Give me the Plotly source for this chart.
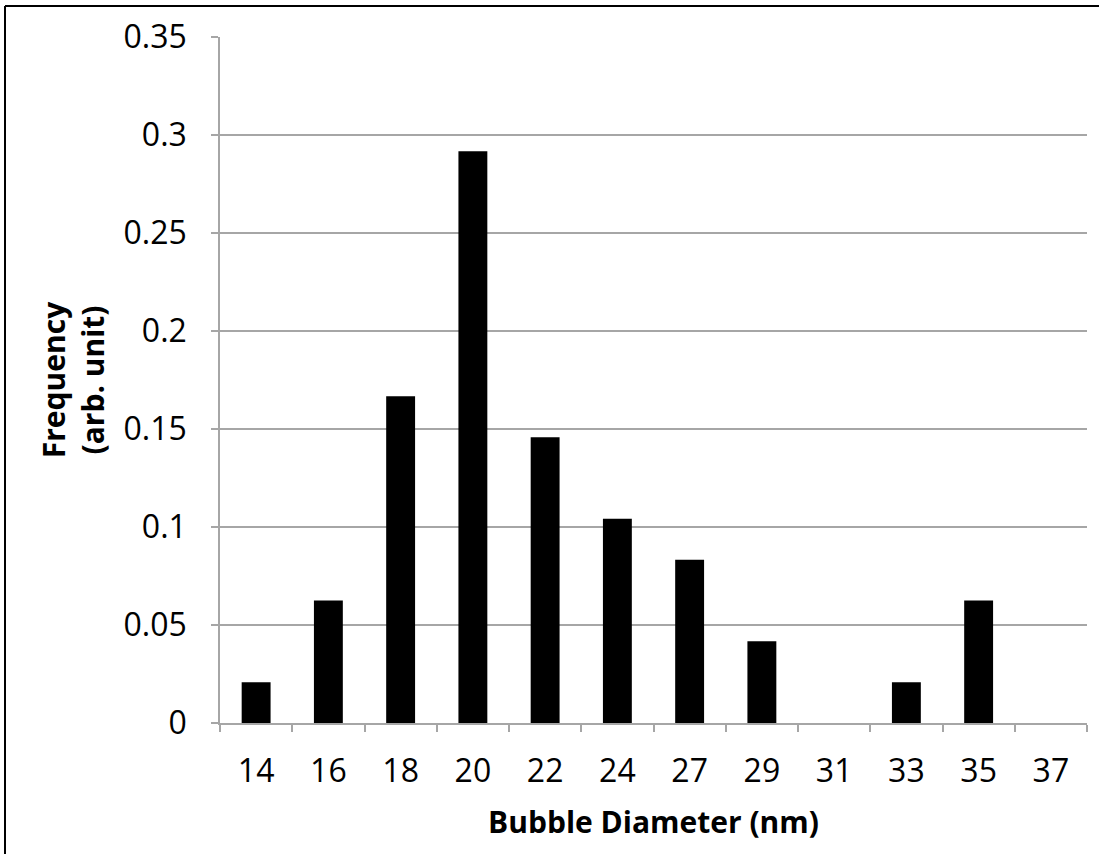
import plotly.graph_objects as go

# Bubble diameter histogram (normalised frequency)
diameters = ["14", "16", "18", "20", "22", "24", "27", "29", "31", "33", "35", "37"]
frequency = [0.0208, 0.0625, 0.1667, 0.2917, 0.1458, 0.1042, 0.0833, 0.0417, 0.0, 0.0208, 0.0625, 0.0]
y_ticks = [0, 0.05, 0.1, 0.15, 0.2, 0.25, 0.3, 0.35]
y_tick_text = ["0", "0.05", "0.1", "0.15", "0.2", "0.25", "0.3", "0.35"]

W, H = 1099, 854
ML, MR, MT, MB = 220, 12, 37, 131
grid = "#A6A6A6"
font = "Open Sans, Liberation Sans, sans-serif"

fig = go.Figure(
    go.Bar(x=diameters, y=frequency, marker=dict(color="black", line=dict(width=0)))
)


def px_x(v):
    return (v - ML) / (W - ML - MR)


def px_y(v):
    return (H - MB - v) / (H - MT - MB)


fig.update_layout(
    width=W,
    height=H,
    margin=dict(l=ML, r=MR, t=MT, b=MB),
    paper_bgcolor="white",
    plot_bgcolor="white",
    bargap=0.6,
    showlegend=False,
    font=dict(family=font, color="black"),
    xaxis=dict(
        type="category",
        tickson="boundaries",
        ticks="outside",
        ticklen=7,
        tickcolor=grid,
        tickwidth=1.5,
        showline=True,
        linecolor=grid,
        linewidth=1.5,
        showgrid=False,
        tickfont=dict(size=32, family=font),
        ticklabelstandoff=19,
        title=dict(text="<b>Bubble Diameter (nm)</b>", font=dict(size=30, family=font), standoff=22),
    ),
    yaxis=dict(
        range=[0, 0.35],
        tickvals=y_ticks,
        ticktext=y_tick_text,
        ticks="outside",
        ticklen=7,
        tickcolor=grid,
        tickwidth=1.5,
        showline=True,
        linecolor=grid,
        linewidth=1.5,
        showgrid=True,
        gridcolor=grid,
        gridwidth=1.5,
        zeroline=False,
        tickfont=dict(size=32, family=font),
        ticklabelstandoff=18,
        title=dict(text="<b>Frequency<br>(arb. unit)</b>", font=dict(size=30, family=font), standoff=10),
    ),
    shapes=[
        # outer frame
        dict(type="line", xref="paper", yref="paper",
             x0=px_x(5), x1=px_x(W), y0=px_y(6), y1=px_y(6),
             line=dict(color="black", width=2)),
        dict(type="line", xref="paper", yref="paper",
             x0=px_x(5), x1=px_x(5), y0=px_y(6), y1=px_y(H),
             line=dict(color="black", width=2)),
    ],
)

fig.write_html("out.html")
